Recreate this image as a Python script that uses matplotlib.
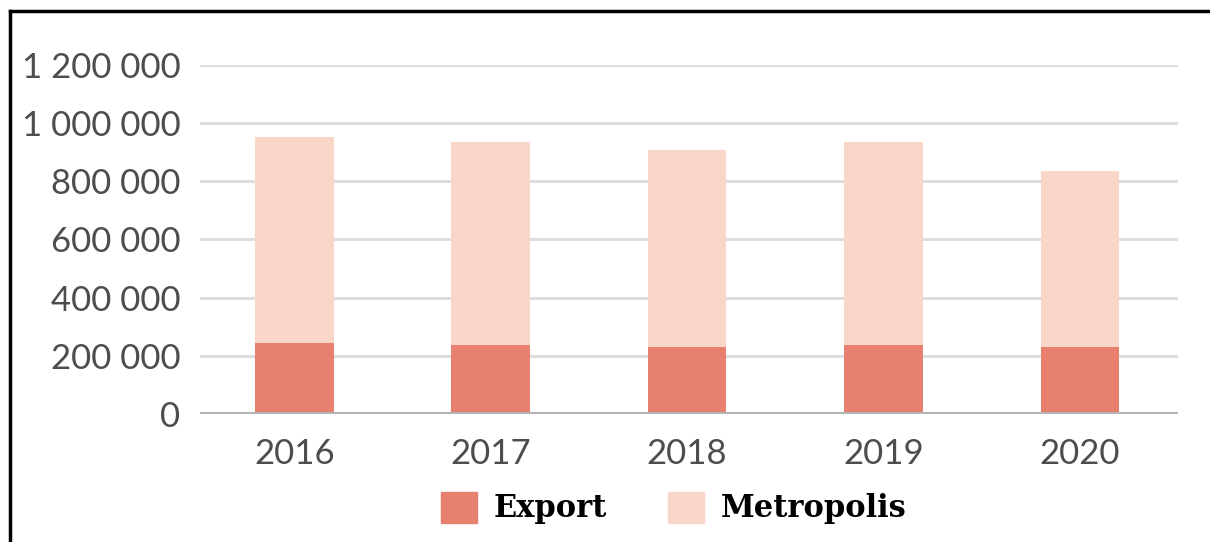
import matplotlib
matplotlib.use("Agg")
import matplotlib.pyplot as plt
from matplotlib.lines import Line2D
from matplotlib.patches import Patch
import numpy as np

# Data
years = ["2016", "2017", "2018", "2019", "2020"]
export = [245000, 237000, 230000, 237000, 230000]
metropolis = [707000, 698000, 677000, 698000, 605000]
yticks = [0, 200000, 400000, 600000, 800000, 1000000, 1200000]

export_color = "#E8806F"
metro_color = "#F9D6C8"


def fmt(v):
    return f"{v:,}".replace(",", " ")


fig = plt.figure(figsize=(12.1, 5.42), dpi=100)
ax = fig.add_axes([200 / 1210, 1 - 414 / 542, 978 / 1210, 349 / 542])

x = np.arange(len(years))
ax.bar(x, export, width=0.4, color=export_color, zorder=3)
ax.bar(x, metropolis, width=0.4, bottom=export, color=metro_color, zorder=3)

ax.set_ylim(0, 1200000)
ax.set_xlim(-0.48, 4.5)
ax.set_yticks(yticks)
ax.set_yticklabels([fmt(v) for v in yticks])
ax.set_xticks(x)
ax.set_xticklabels(years)

for v in yticks[1:]:
    ax.axhline(v, color="#dddddd", lw=2.2, zorder=1)
ax.axhline(0, color="#b4b4b4", lw=3, zorder=4)

for s in ax.spines.values():
    s.set_visible(False)
ax.tick_params(length=0, colors="#4d4d4d")
ax.tick_params(axis="y", pad=14)
ax.tick_params(axis="x", pad=17)
for lab in ax.get_yticklabels() + ax.get_xticklabels():
    lab.set_fontfamily("Lato")
    lab.set_fontsize(25)
    lab.set_color("#4d4d4d")

handles = [Patch(color=export_color, label="Export"),
           Patch(color=metro_color, label="Metropolis")]
fig.legend(handles=handles, loc="center", bbox_to_anchor=(0.5566, 0.0627),
           ncol=2, frameon=False, handlelength=1.18, handleheight=1.18,
           handletextpad=0.55, columnspacing=2.0,
           prop={"family": "DejaVu Serif", "weight": "bold", "size": 22})

# black frame (cut off at right and bottom)
fig.add_artist(Line2D([10 / 1210, 1.0], [1 - 11 / 542] * 2, color="black", lw=2.5))
fig.add_artist(Line2D([10 / 1210] * 2, [0, 1 - 11 / 542], color="black", lw=2.5))

fig.savefig("out.png", dpi=100)
